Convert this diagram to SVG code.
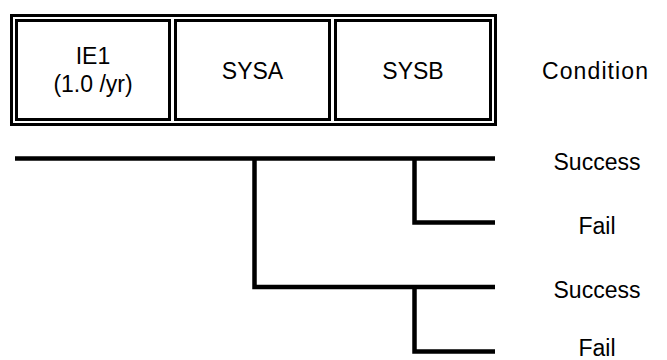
<svg xmlns="http://www.w3.org/2000/svg" width="667" height="360" viewBox="0 0 667 360">
<style>
.box{fill:#fff;stroke:#000;stroke-width:3}
.t{font-family:"Liberation Sans",Arial,sans-serif;font-size:23px;fill:#000;text-anchor:middle}
.ln{fill:none;stroke:#000;stroke-width:4.5;stroke-linecap:butt;stroke-linejoin:miter}
</style>
<rect width="667" height="360" fill="#fff"/>
<g id="header">
<rect class="box" x="11.5" y="15.5" width="484" height="109"/>
</g>
<g id="ie1">
<rect class="box" x="16.5" y="20.5" width="153" height="99"/>
<text class="t" x="93" y="64">IE1</text>
<text class="t" x="93" y="92">(1.0 /yr)</text>
</g>
<g id="sysa">
<rect class="box" x="175.5" y="20.5" width="154" height="99"/>
<text class="t" x="252.5" y="79">SYSA</text>
</g>
<g id="sysb">
<rect class="box" x="335.5" y="20.5" width="155" height="99"/>
<text class="t" x="413" y="79">SYSB</text>
</g>
<g id="condition">
<text class="t" x="595" y="79" textLength="106" lengthAdjust="spacing">Condition</text>
</g>
<g id="connectors">
<path class="ln" d="M15 158.5H495"/>
<path class="ln" d="M254.5 158.5V287H495"/>
<path class="ln" d="M414.5 158.5V222.5H495"/>
<path class="ln" d="M414.5 287V351.5H495"/>
</g>
<g id="outcomes">
<text class="t" x="597" y="170">Success</text>
<text class="t" x="597" y="234">Fail</text>
<text class="t" x="597" y="298">Success</text>
<text class="t" x="597" y="356">Fail</text>
</g>
</svg>
